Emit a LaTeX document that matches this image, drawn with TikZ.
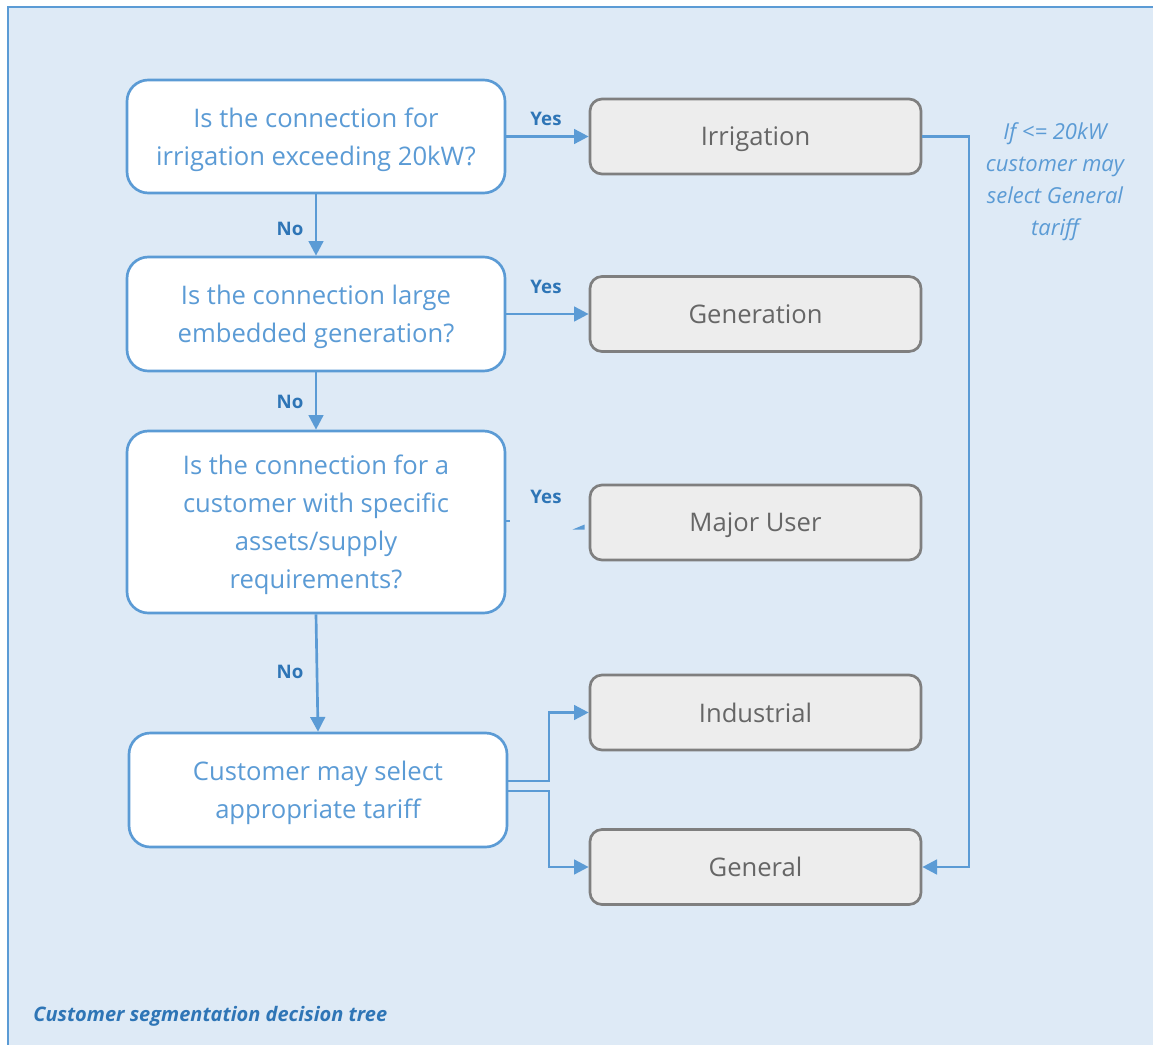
\documentclass[tikz,border=0pt]{standalone}
\usepackage{fontspec}
\setmainfont{Open Sans}
\usetikzlibrary{arrows.meta,calc}
\definecolor{bgblue}{HTML}{DEEAF6}
\definecolor{lineblue}{HTML}{5B9BD5}
\definecolor{darkblue}{HTML}{2E75B6}
\definecolor{boxgray}{HTML}{EDEDED}
\definecolor{bordergray}{HTML}{7F7F7F}
\definecolor{textgray}{HTML}{666666}
\tikzset{
  question/.style={draw=lineblue, line width=2pt, fill=white, rounded corners=16pt,
    text=lineblue, align=center, font=\fontsize{19.2}{28.5}\selectfont,
    minimum width=283.5pt, inner sep=0pt, text depth=0pt},
  outcome/.style={draw=bordergray, line width=2pt, fill=boxgray, rounded corners=9pt,
    text=textgray, font=\fontsize{19.2}{28.5}\selectfont,
    minimum width=248.25pt, minimum height=56.25pt, inner sep=0pt, text depth=0pt},
  conn/.style={draw=lineblue, line width=2pt, -{Triangle[length=11pt,width=11pt]}},
  plain/.style={draw=lineblue, line width=2pt},
  lbl/.style={text=darkblue, font=\fontsize{14}{16}\selectfont\bfseries, inner sep=0pt},
  note/.style={text=lineblue, align=center, font=\fontsize{16.5}{24}\selectfont\itshape, inner sep=0pt},
  caption/.style={text=darkblue, font=\fontsize{15}{17}\selectfont\bfseries\itshape, inner sep=0pt, anchor=west}
}
\begin{document}
\begin{tikzpicture}[x=0.75pt,y=-0.75pt]
\useasboundingbox (0,0) rectangle (1153,1045);
\fill[white] (0,0) rectangle (1153,1045);
\draw[lineblue, line width=2pt, fill=bgblue] (8,7) rectangle (1165,1060);

% questions
\node[question, minimum height=84.75pt] (q1) at (316,136.5) {Is the connection for\\irrigation exceeding 20kW?};
\node[question, minimum height=85.5pt] (q2) at (316,314) {Is the connection large\\embedded generation?};
\node[question, minimum height=136.5pt] (q3) at (316,522) {Is the connection for a\\customer with specific\\assets/supply\\requirements?};
\node[question, minimum height=85.5pt] (q4) at (318,790) {Customer may select\\appropriate tariff};

% outcomes
\node[outcome] (irr) at (755.5,136.5) {Irrigation};
\node[outcome] (gen) at (755.5,314) {Generation};
\node[outcome] (maj) at (755.5,522.5) {Major User};
\node[outcome] (ind) at (755.5,712.5) {Industrial};
\node[outcome] (gnl) at (755.5,867) {General};

% yes connectors
\draw[conn] (q1.east) -- (irr.west);
\node[lbl] (y1) at (546,119) {Yes};
\draw[conn] (q2.east) -- (gen.west);
\node[lbl] (y2) at (546,287) {Yes};
\node[lbl] (y3) at (546,497) {Yes};
\draw[plain, line width=1.5pt] (q3.east) ++(0,-1) -- ++(4,0);
\fill[lineblue] ($(maj.west)+(-16,7)$) -- ($(maj.west)+(-4,2)$) -- ($(maj.west)+(-4,7)$) -- cycle;

% no connectors
\draw[conn] (q1.south) -- (q2.north);
\node[lbl] (n1) at (290,229) {No};
\draw[conn] (q2.south) -- (q3.north);
\node[lbl] (n2) at (290,402) {No};
\draw[conn] (q3.south) -- (q4.north);
\node[lbl] (n3) at (290,672) {No};

% tariff choice
\draw[conn] ($(q4.east)+(0,-9)$) -- (549,781) |- (ind.west);
\draw[conn] ($(q4.east)+(0,1)$) -- (549,791) |- (gnl.west);

% irrigation to general
\draw[conn] (irr.east) -- (969,136.5) |- (gnl.east);
\node[note] (nt) at (1055,182) {If <= 20kW\\customer may\\select General\\tariff};

\node[caption] (cap) at (33,1016) {Customer segmentation decision tree};
\end{tikzpicture}
\end{document}
